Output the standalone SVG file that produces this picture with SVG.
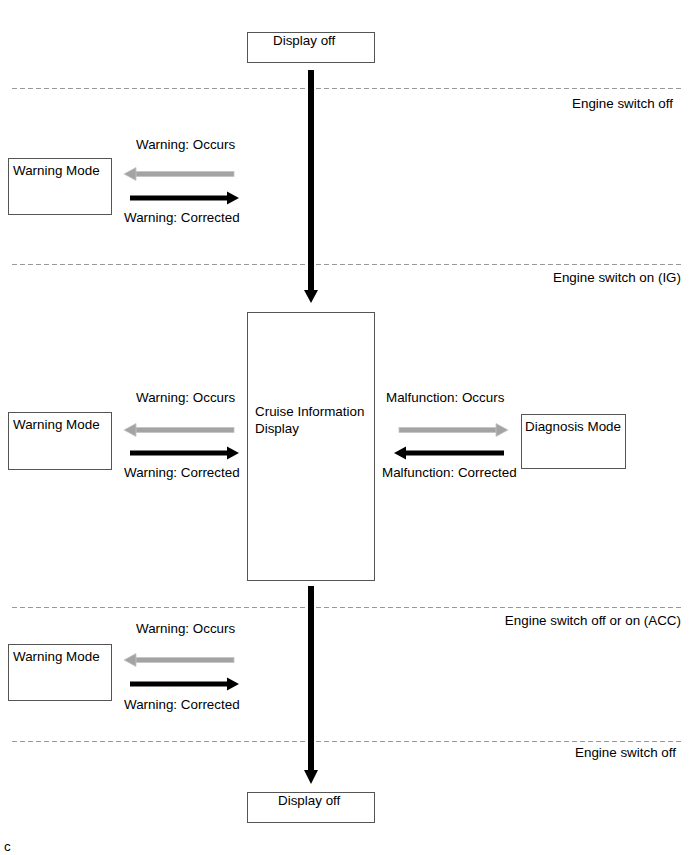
<svg xmlns="http://www.w3.org/2000/svg" width="690" height="855" viewBox="0 0 690 855">
<style>
text{font-family:"Liberation Sans",Arial,sans-serif;font-size:13.4px;fill:#000}
.box{fill:#fff;stroke:#555;stroke-width:1}
.dash{stroke:#9a9a9a;stroke-width:1;stroke-dasharray:5 3;fill:none}
.blk{fill:#000}
.gry{fill:#a3a3a3;stroke:#c4c4c4;stroke-width:0.8}
.r{text-anchor:end}
</style>
<rect width="690" height="855" fill="#fff"/>
<g id="zones">
<line class="dash" x1="12" y1="88.5" x2="683" y2="88.5"/>
<line class="dash" x1="12" y1="264.5" x2="683" y2="264.5"/>
<line class="dash" x1="12" y1="607.5" x2="683" y2="607.5"/>
<line class="dash" x1="12" y1="741.5" x2="683" y2="741.5"/>
<text class="r" x="673" y="108">Engine switch off</text>
<text class="r" x="681" y="282">Engine switch on (IG)</text>
<text class="r" x="681" y="625">Engine switch off or on (ACC)</text>
<text class="r" x="676" y="757">Engine switch off</text>
</g>
<g id="display-off-top">
<rect class="box" x="247.5" y="32.5" width="127" height="30"/>
<text x="273" y="45">Display off</text>
</g>
<g id="warning-mode-1">
<rect class="box" x="8.5" y="158.5" width="103" height="56"/>
<text x="13" y="175">Warning Mode</text>
</g>
<g id="cruise-info">
<rect class="box" x="247.5" y="312.5" width="127" height="268"/>
<text x="255" y="416">Cruise Information</text>
<text x="255" y="433">Display</text>
</g>
<g id="warning-mode-2">
<rect class="box" x="8.5" y="412.5" width="103" height="57"/>
<text x="13" y="429">Warning Mode</text>
</g>
<g id="diagnosis-mode">
<rect class="box" x="521.5" y="414.5" width="104" height="54"/>
<text x="525" y="431">Diagnosis Mode</text>
</g>
<g id="warning-mode-3">
<rect class="box" x="8.5" y="644.5" width="103" height="56"/>
<text x="13" y="661">Warning Mode</text>
</g>
<g id="display-off-bottom">
<rect class="box" x="247.5" y="792.5" width="127" height="30"/>
<text x="278" y="805">Display off</text>
</g>
<g id="connectors">
<rect class="blk" x="308" y="70" width="6" height="221"/>
<polygon class="blk" points="304,290 318,290 311,303"/>
<rect class="blk" x="308" y="586" width="6" height="185"/>
<polygon class="blk" points="304,770 318,770 311,784"/>
<text x="136" y="149">Warning: Occurs</text>
<rect class="gry" x="134" y="171.5" width="100" height="5"/>
<polygon class="gry" points="136,167.5 124,174 136,180.5"/>
<rect class="blk" x="130" y="195.5" width="98" height="5"/>
<polygon class="blk" points="227,191.5 239,198 227,204.5"/>
<text x="124" y="222">Warning: Corrected</text>
<text x="136" y="402">Warning: Occurs</text>
<rect class="gry" x="134" y="427.5" width="100" height="5"/>
<polygon class="gry" points="136,423.5 124,430 136,436.5"/>
<rect class="blk" x="130" y="450.5" width="98" height="5"/>
<polygon class="blk" points="227,446.5 239,453 227,459.5"/>
<text x="124" y="477">Warning: Corrected</text>
<text x="386" y="402">Malfunction: Occurs</text>
<rect class="gry" x="399" y="427.5" width="98" height="5"/>
<polygon class="gry" points="496,423.5 508,430 496,436.5"/>
<rect class="blk" x="405" y="450.5" width="99" height="5"/>
<polygon class="blk" points="406,446.5 394,453 406,459.5"/>
<text x="382" y="477">Malfunction: Corrected</text>
<text x="136" y="633">Warning: Occurs</text>
<rect class="gry" x="134" y="657.5" width="100" height="5"/>
<polygon class="gry" points="136,653.5 124,660 136,666.5"/>
<rect class="blk" x="130" y="681.5" width="98" height="5"/>
<polygon class="blk" points="227,677.5 239,684 227,690.5"/>
<text x="124" y="709">Warning: Corrected</text>
</g>
<text x="4" y="851">c</text>
</svg>
